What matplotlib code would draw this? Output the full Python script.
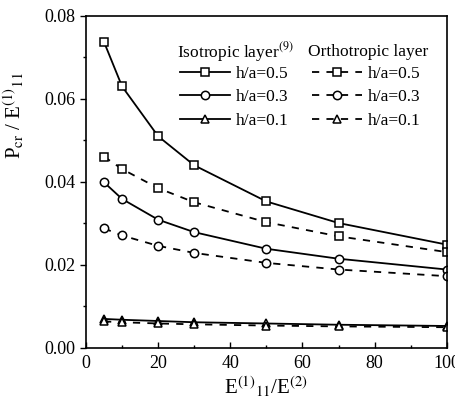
import matplotlib
matplotlib.use("Agg")
import matplotlib.pyplot as plt
from matplotlib.ticker import MultipleLocator, FormatStrFormatter

# E11(1)/E(2) ratios
ratio = [5, 10, 20, 30, 50, 70, 100]

# Isotropic layer (ref. 9)
iso_05 = [0.0737, 0.0630, 0.0510, 0.0440, 0.0353, 0.0301, 0.0249]
iso_03 = [0.0399, 0.0359, 0.0309, 0.0279, 0.0239, 0.0215, 0.0189]
iso_01 = [0.0070, 0.0068, 0.0065, 0.0062, 0.0059, 0.0056, 0.0053]

# Orthotropic layer
ort_05 = [0.0461, 0.0431, 0.0385, 0.0351, 0.0303, 0.0269, 0.0231]
ort_03 = [0.0288, 0.0271, 0.0246, 0.0229, 0.0205, 0.0189, 0.0173]
ort_01 = [0.0064, 0.0062, 0.0059, 0.0057, 0.0054, 0.0052, 0.0050]

labels = ["h/a=0.5", "h/a=0.3", "h/a=0.1"]
markers = ["s", "o", "^"]

plt.rcParams.update({
    "font.family": "Liberation Serif",
    "mathtext.fontset": "stix",
})

fig = plt.figure(figsize=(4.55, 4.07), dpi=100)
ax = fig.add_axes([0.189, 0.145, 0.793, 0.816])

kw = dict(color="black", lw=1.3, markersize=6, mfc="white", mec="black", mew=1.1)
h_iso = []
for y, mk, lab in zip([iso_05, iso_03, iso_01], markers, labels):
    h, = ax.plot(ratio, y, marker=mk, ls="-", label=lab, **kw)
    h_iso.append(h)
h_ort = []
for y, mk, lab in zip([ort_05, ort_03, ort_01], markers, labels):
    h, = ax.plot(ratio, y, marker=mk, ls=(0, (4, 4)), label=lab, **kw)
    h_ort.append(h)

ax.set_xlim(0, 100)
ax.set_ylim(0, 0.08)
ax.xaxis.set_major_locator(MultipleLocator(20))
ax.xaxis.set_minor_locator(MultipleLocator(10))
ax.yaxis.set_major_locator(MultipleLocator(0.02))
ax.yaxis.set_minor_locator(MultipleLocator(0.01))
ax.yaxis.set_major_formatter(FormatStrFormatter("%.2f"))
ax.tick_params(axis="x", which="both", direction="in", labelsize=13, pad=5)
ax.tick_params(axis="y", which="both", direction="out", labelsize=13)
ax.tick_params(which="major", length=4, width=1)
ax.tick_params(which="minor", length=2.5, width=1)
for s in ax.spines.values():
    s.set_linewidth(1.2)

ax.set_xlabel(r"E$^{(1)}$$_{11}$/E$^{(2)}$", fontsize=15, labelpad=2)
ax.set_ylabel(r"P$_{\rm cr}$ / E$^{(1)}$$_{11}$", fontsize=15)
ax.yaxis.set_label_coords(-0.165, 0.70)

# two legend columns, titles drawn as plain text
leg_kw = dict(frameon=False, fontsize=12.5, handlelength=2.9, handletextpad=0.3,
              labelspacing=0.42, borderpad=0, borderaxespad=0, loc="upper left")
leg1 = ax.legend(h_iso, labels, bbox_to_anchor=(0.26, 0.85), **leg_kw)
ax.add_artist(leg1)
ax.legend(h_ort, labels, bbox_to_anchor=(0.626, 0.85), **leg_kw)
ax.text(0.252, 0.89, r"Isotropic layer$^{(9)}$", transform=ax.transAxes,
        fontsize=12.5, va="center", ha="left")
ax.text(0.615, 0.89, "Orthotropic layer", transform=ax.transAxes,
        fontsize=12.5, va="center", ha="left")

fig.savefig("out.png", dpi=100)
